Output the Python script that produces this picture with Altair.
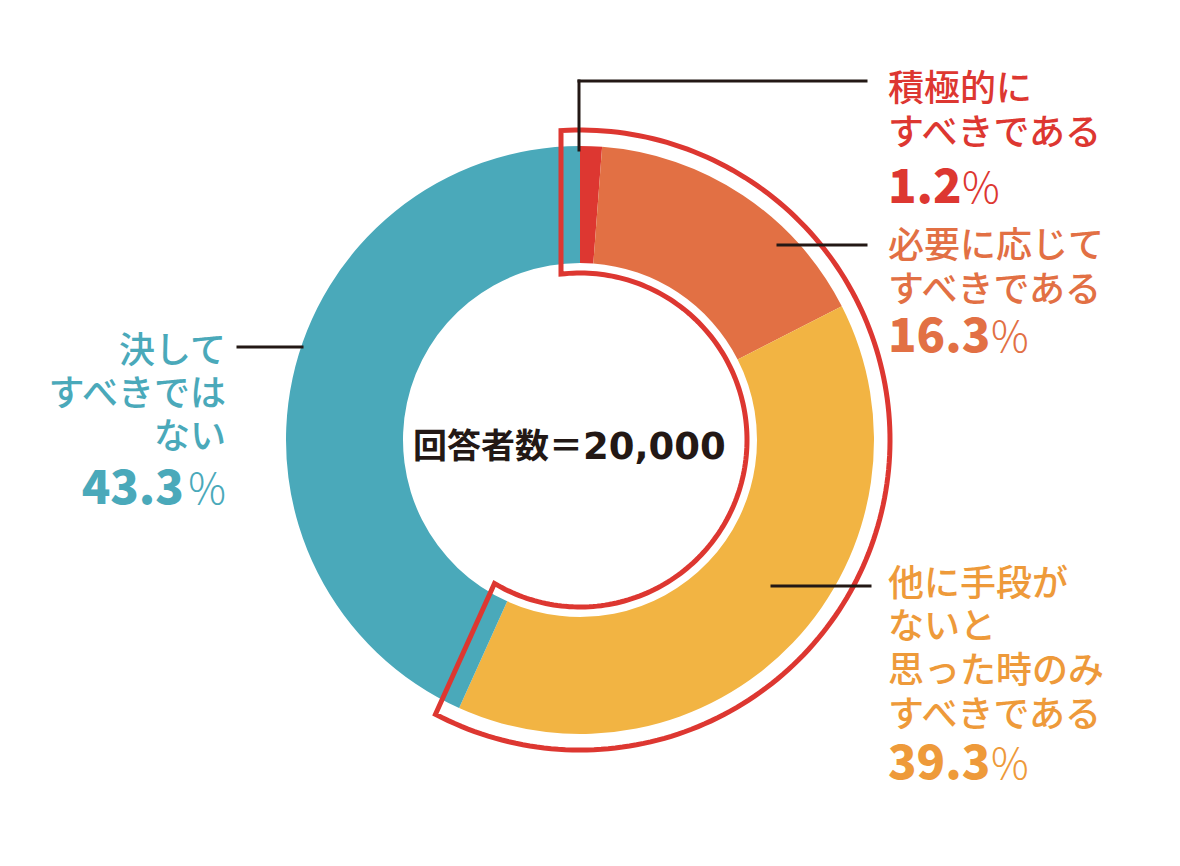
import math
import altair as alt
import pandas as pd

# ---- data ----
categories = ["積極的にすべきである", "必要に応じてすべきである",
              "他に手段がないと思った時のみすべきである", "決してすべきではない"]
shares = [1.2, 16.3, 39.3, 43.3]
slice_colors = ["#DD3731", "#E27044", "#F2B443", "#4AA9BA"]
text_colors = ["#DD3731", "#E27044", "#EE9A3A", "#4AA9BA"]
label_lines = [["積極的に", "すべきである"],
               ["必要に応じて", "すべきである"],
               ["他に手段が", "ないと", "思った時のみ", "すべきである"],
               ["決して", "すべきでは", "ない"]]
pct_labels = ["1.2", "16.3", "39.3", "43.3"]
center_head = "回答者数＝"
center_num = "20,000"

W, H = 1164, 850
OFF = 8                    # page margin
CX, CY = 580 - OFF, 440 - OFF   # donut centre (chart coords)
R_OUT, R_IN = 294, 177

df = pd.DataFrame({"cat": categories, "share": shares, "idx": list(range(len(shares)))})

donut = alt.Chart(df).mark_arc(outerRadius=R_OUT, innerRadius=R_IN).encode(
    theta=alt.Theta("share:Q", stack=True),
    order=alt.Order("idx:O"),
    color=alt.Color("cat:N", scale=alt.Scale(domain=categories, range=slice_colors), legend=None),
    x=alt.value(CX), y=alt.value(CY),
)

# ---- red outline around the first three categories (offset outline of the arc) ----
tot = sum(shares)
th_s = 0.0
th_e = sum(shares[:3]) / tot * 2 * math.pi
RO, RI, D = 310, 167, 19
ao, ai = math.asin(D / RO), math.asin(D / RI)


def pt(th, r):
    return CX + r * math.sin(th), CY - r * math.cos(th)


pts = []
o0, o1 = th_s - ao, th_e + ao
mid = (o0 + o1) / 2
N = 80
for k in range(N + 1):                       # outer arc: mid -> end
    pts.append(pt(mid + (o1 - mid) * k / N, RO))
i0, i1 = th_e + ai, th_s - ai
for k in range(2 * N + 1):                   # inner arc: end -> start
    pts.append(pt(i0 + (i1 - i0) * k / (2 * N), RI))
for k in range(N + 1):                       # outer arc: start -> mid
    pts.append(pt(o0 + (mid - o0) * k / N, RO))
odf = pd.DataFrame({"px": [p[0] for p in pts], "py": [p[1] for p in pts], "o": list(range(len(pts)))})

outline = alt.Chart(odf).mark_line(color="#DD3731", strokeWidth=5, strokeJoin="miter").encode(
    x=alt.X("px:Q", scale=alt.Scale(domain=[0, W], range=[0, W], nice=False, zero=False), axis=None),
    y=alt.Y("py:Q", scale=alt.Scale(domain=[0, H], range=[0, H], nice=False, zero=False), axis=None),
    order=alt.Order("o:Q"),
)

one = alt.Data(values=[{}])
LINE = "#231815"


def hrule(x1, x2, y):
    return alt.Chart(one).mark_rule(color=LINE, strokeWidth=3, strokeCap="square").encode(
        x=alt.value(x1 - OFF), x2=alt.value(x2 - OFF), y=alt.value(y - OFF))


def vrule(x, y1, y2):
    return alt.Chart(one).mark_rule(color=LINE, strokeWidth=3, strokeCap="square").encode(
        x=alt.value(x - OFF), y=alt.value(y1 - OFF), y2=alt.value(y2 - OFF))


def txt(s, x, y, color, size, weight, font, align="left", baseline="middle"):
    return alt.Chart(one).mark_text(
        text=s, align=align, baseline=baseline, font=font, fontSize=size,
        fontWeight=weight, color=color,
    ).encode(x=alt.value(x - OFF), y=alt.value(y - OFF))


JP = "Noto Sans CJK JP"

layers = [donut, outline,
          vrule(579, 150, 81), hrule(579, 866, 81),
          hrule(778, 866, 245),
          hrule(772, 870, 586),
          hrule(238, 302, 347)]

# label layout: (x, line ys, align, number x, number baseline y, pct x, pct align)
layout = [
    (888, [90, 134], "left", 888, 203, 962, "left"),
    (888, [247, 291], "left", 888, 352, 991, "left"),
    (888, [585, 628, 672, 716], "left", 888, 779, 991, "left"),
    (226, [352, 395, 438], "right", 184, 504, 226, "right"),
]
for i, (lx, ys, al, nx, ny, px, pal) in enumerate(layout):
    c = text_colors[i]
    for line, y in zip(label_lines[i], ys):
        layers.append(txt(line, lx, y, c, 36, 500, JP, align=al))
    layers.append(txt(pct_labels[i], nx, ny, c, 47, 900, JP, align=al, baseline="alphabetic"))
    layers.append(txt("%", px, ny, c, 42, 300, JP, align=pal, baseline="alphabetic"))

layers.append(txt(center_head, 413, 448, LINE, 34, "bold", JP, align="left"))
layers.append(txt(center_num, 583, 448, LINE, 37, "bold", "DejaVu Sans", align="left"))

chart = alt.layer(*layers).properties(
    width=W, height=H, padding=0, autosize=alt.AutoSizeParams(type="none")
).configure_view(strokeWidth=0)

chart.save("out.html", embed_options={"renderer": "svg", "actions": False})
